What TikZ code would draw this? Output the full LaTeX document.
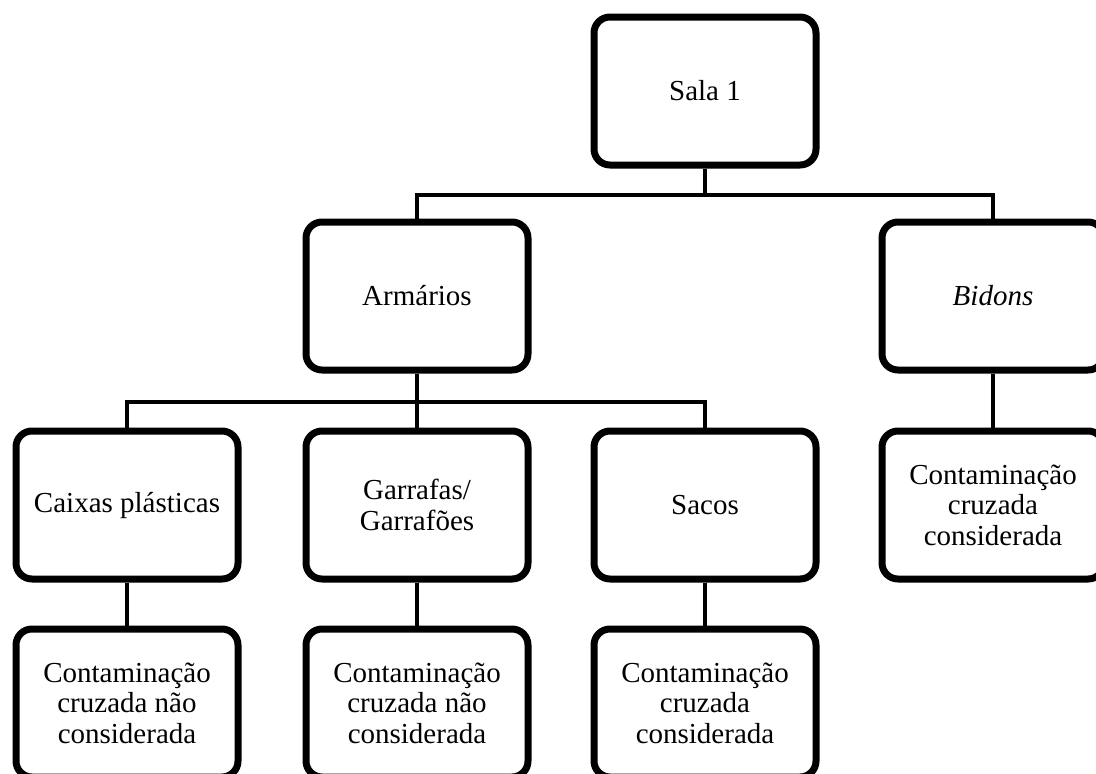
\documentclass[tikz,border=0pt]{standalone}
\usepackage{fontspec}
\setmainfont{Liberation Serif}
\usetikzlibrary{positioning,shadows}

\begin{document}
\begin{tikzpicture}[x=1pt, y=-1pt,
    caixa/.style = {draw, line width=7pt, rounded corners=16pt, fill=white,
      minimum width=222pt, minimum height=148pt, align=center,
      font=\fontsize{29}{30.5}\selectfont,
      drop shadow={opacity=0.3, shadow xshift=2pt, shadow yshift=-3pt}},
    ligacao/.style = {line width=4.5pt}]
  \useasboundingbox (0,0) rectangle (1096,774);

  \node[caixa] (sala) at (705,91) {Sala 1};

  \node[caixa] (armarios) at (417,296) {Armários};
  \node[caixa] (bidons) at (993,296) {\textit{Bidons}};

  \node[caixa] (caixas) at (127,505) {Caixas plásticas};
  \node[caixa] (garrafas) at (417,505) {Garrafas/\\Garrafões};
  \node[caixa] (sacos) at (705,505) {Sacos};
  \node[caixa] (contbidons) at (993,505) {Contaminação\\cruzada\\considerada};

  \node[caixa, below=43pt of caixas] (contcaixas) {Contaminação\\cruzada não\\considerada};
  \node[caixa, below=43pt of garrafas] (contgarrafas) {Contaminação\\cruzada não\\considerada};
  \node[caixa, below=43pt of sacos] (contsacos) {Contaminação\\cruzada\\considerada};

  % ligacoes
  \draw[ligacao] (sala.south) -- ++(0,26.5) coordinate (forksala) -| (armarios.north);
  \draw[ligacao] (forksala) -| (bidons.north);
  \draw[ligacao] (armarios.south) -- ++(0,28.5) coordinate (forkarm) -| (caixas.north);
  \draw[ligacao] (forkarm) -| (sacos.north);
  \draw[ligacao] (forkarm) -- (garrafas.north);
  \draw[ligacao] (bidons.south) -- (contbidons.north);
  \draw[ligacao] (caixas.south) -- (contcaixas.north);
  \draw[ligacao] (garrafas.south) -- (contgarrafas.north);
  \draw[ligacao] (sacos.south) -- (contsacos.north);
\end{tikzpicture}
\end{document}
